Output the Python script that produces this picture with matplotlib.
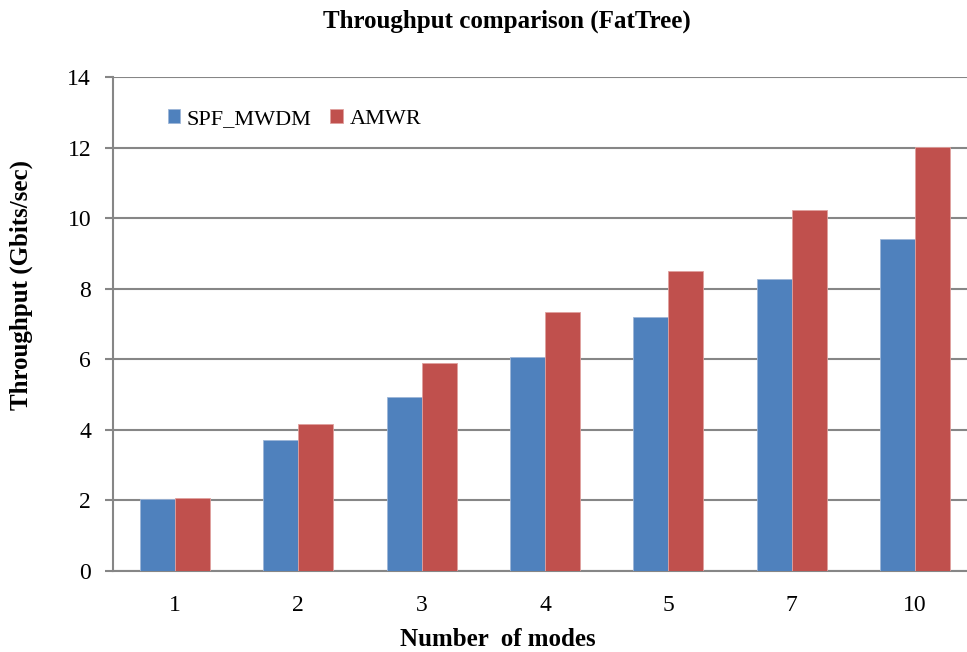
import numpy as np
import matplotlib
matplotlib.use('Agg')
import matplotlib.pyplot as plt

# ── 数据 ──────────────────────────────────────────
modes = ['1', '2', '3', '4', '5', '7', '10']
spf_mwdm = [2.03, 3.71, 4.94, 6.06, 7.21, 8.27, 9.40]
amwr = [2.07, 4.17, 5.90, 7.33, 8.50, 10.22, 12.03]
yticks = [0, 2, 4, 6, 8, 10, 12, 14]

BLUE = '#4F81BD'
RED = '#C0504D'
GRID = '#868686'

plt.rcParams['font.family'] = ['Liberation Serif', 'DejaVu Serif']

fig = plt.figure(figsize=(9.67, 6.52), dpi=100)
ax = fig.add_axes([113.3 / 967, 81 / 652, 863.4 / 967, 494 / 652])

x = np.arange(len(modes))
w = 0.284
ax.bar(x - w / 2, spf_mwdm, w, color=BLUE, edgecolor='#9DB6D8', linewidth=0.6,
       label='SPF_MWDM', zorder=3)
ax.bar(x + w / 2, amwr, w, color=RED, edgecolor='#E0A09E', linewidth=0.6,
       label='AMWR', zorder=3)

ax.set_xlim(-0.5, len(modes) - 0.5)
ax.set_ylim(0, 14)
ax.set_yticks(yticks)
ax.set_xticks(x)
ax.set_xticklabels(modes)
ax.yaxis.grid(True, color=GRID, linewidth=1.5, zorder=0)
ax.set_axisbelow(True)

for s in ['top', 'right']:
    ax.spines[s].set_visible(False)
for s in ['left', 'bottom']:
    ax.spines[s].set_color(GRID)
    ax.spines[s].set_linewidth(1.5)

ax.tick_params(axis='y', length=6, width=1.5, color=GRID, pad=10, labelsize=17)
ax.tick_params(axis='x', length=0, pad=17, labelsize=17)

# 轴标题位置按原图摆放（原图的图表区在右侧被裁掉，标题不在坐标轴正中）
fig.text(21 / 967, 1 - 285 / 652, 'Throughput (Gbits/sec)', fontsize=18,
         fontweight='bold', ha='center', va='center', rotation=90)
fig.text(498 / 967, 1 - 640 / 652, 'Number  of modes', fontsize=18,
         fontweight='bold', ha='center', va='center')
fig.text(0.524, 0.968, 'Throughput comparison (FatTree)', fontsize=18,
         fontweight='bold', ha='center', va='center')

ax.legend(loc='upper left', bbox_to_anchor=(0.04, 0.975), ncol=2, frameon=False,
          fontsize=16, handlelength=0.55, handleheight=0.55, handletextpad=0.3,
          columnspacing=0.85)

fig.savefig('out.png', dpi=100)
